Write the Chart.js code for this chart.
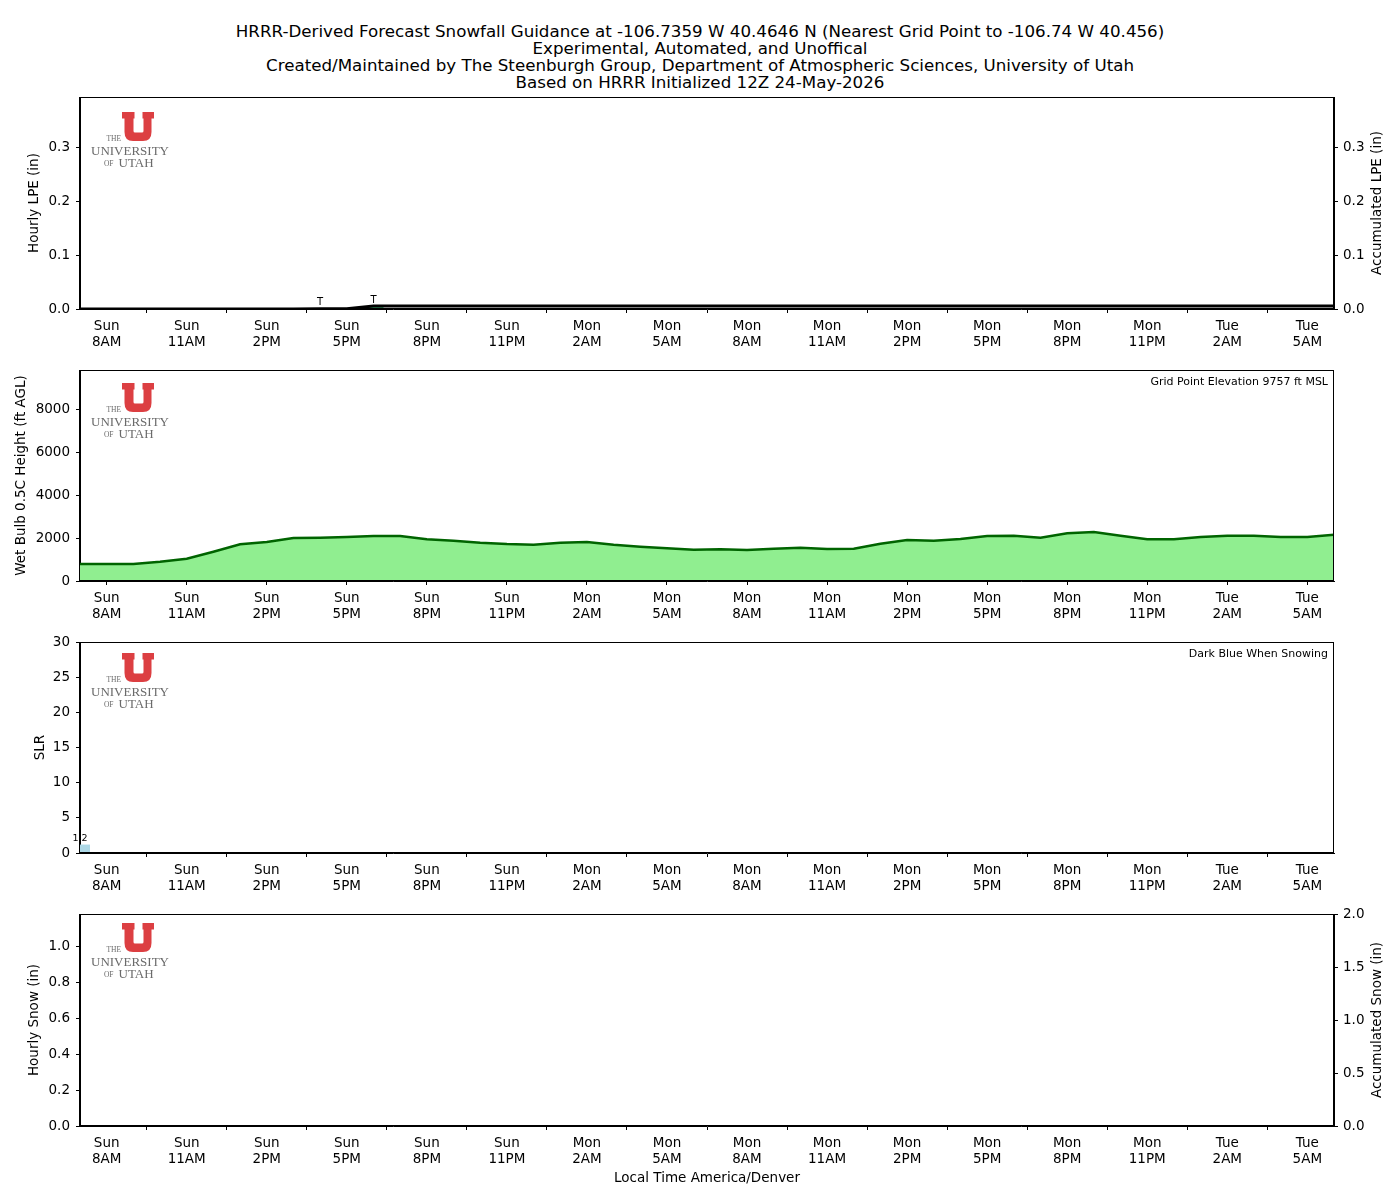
<!DOCTYPE html>
<html>
<head>
<meta charset="utf-8">
<script src="https://cdn.jsdelivr.net/npm/chart.js@4.4.0/dist/chart.umd.min.js"></script>
<style>
body { margin:0; background:#fff; width:1400px; height:1200px; position:relative; font-family:"DejaVu Sans"; }
#title { position:absolute; top:23px; left:0; width:1400px; text-align:center; font-size:16.7px; line-height:17px; color:#000; }
canvas { position:absolute; left:0; }
</style>
</head>
<body>
<div id="title">
HRRR-Derived Forecast Snowfall Guidance at -106.7359 W 40.4646 N (Nearest Grid Point to -106.74 W 40.456)<br>
Experimental, Automated, and Unoffical<br>
Created/Maintained by The Steenburgh Group, Department of Atmospheric Sciences, University of Utah<br>
Based on HRRR Initialized 12Z 24-May-2026
</div>
<canvas id="c1" width="1400" height="277" style="top:82px"></canvas>
<canvas id="c2" width="1400" height="276" style="top:355px"></canvas>
<canvas id="c3" width="1400" height="276" style="top:627px"></canvas>
<canvas id="c4" width="1400" height="299" style="top:899px"></canvas>
<script>
// hours since Sun 7AM local
var fcstHour = [0,1,2,3,4,5,6,7,8,9,10,11,12,13,14,15,16,17,18,19,20,21,22,23,
                24,25,26,27,28,29,30,31,32,33,34,35,36,37,38,39,40,41,42,43,44,45,46,47];

var tickHour = [1,4,7,10,13,16,19,22,25,28,31,34,37,40,43,46];
var tickDay  = ['Sun','Sun','Sun','Sun','Sun','Sun','Mon','Mon','Mon','Mon','Mon','Mon','Mon','Mon','Tue','Tue'];
var tickTime = ['8AM','11AM','2PM','5PM','8PM','11PM','2AM','5AM','8AM','11AM','2PM','5PM','8PM','11PM','2AM','5AM'];

var lpeHourly = [0,0,0,0,0,0,0,0,0,0.0005,0,0.005,0,0,0,0,0,0,0,0,0,0,0,0,
                 0,0,0,0,0,0,0,0,0,0,0,0,0,0,0,0,0,0,0,0,0,0,0,0];
var lpeAccum  = [0,0,0,0,0,0,0,0,0,0.0005,0.0005,0.0055,0.0055,0.0055,0.0055,0.0055,0.0055,0.0055,0.0055,0.0055,0.0055,0.0055,0.0055,0.0055,
                 0.0055,0.0055,0.0055,0.0055,0.0055,0.0055,0.0055,0.0055,0.0055,0.0055,0.0055,0.0055,0.0055,0.0055,0.0055,0.0055,0.0055,0.0055,0.0055,0.0055,0.0055,0.0055,0.0055,0.0055];

var wetBulbFt = [795,790,800,905,1045,1372,1715,1824,2011,2027,2058,2105,2105,1949,1886,1793,1730,1700,1793,1824,1700,1606,1528,1465,
                 1490,1450,1512,1559,1497,1512,1746,1918,1886,1964,2105,2120,2027,2229,2292,2120,1949,1949,2058,2120,2120,2058,2058,2167];

var slr = [1.2,null,null,null,null,null,null,null,null,null,null,null,null,null,null,null,null,null,null,null,null,null,null,null,
           null,null,null,null,null,null,null,null,null,null,null,null,null,null,null,null,null,null,null,null,null,null,null,null];

var snowHourly = [0,0,0,0,0,0,0,0,0,0,0,0,0,0,0,0,0,0,0,0,0,0,0,0,
                  0,0,0,0,0,0,0,0,0,0,0,0,0,0,0,0,0,0,0,0,0,0,0,0];
var snowAccum  = [0,0,0,0,0,0,0,0,0,0,0,0,0,0,0,0,0,0,0,0,0,0,0,0,
                  0,0,0,0,0,0,0,0,0,0,0,0,0,0,0,0,0,0,0,0,0,0,0,0];

var gridElevation = 9757;

Chart.defaults.font.family = 'DejaVu Sans';
Chart.defaults.font.size = 13.5;
Chart.defaults.color = '#000';
Chart.defaults.animation = false;

function pts(arr){
  return fcstHour.map(function(h, i){ return {x: h, y: arr[i]}; });
}

var axisGrid = {display:true, drawOnChartArea:false, drawTicks:true, tickLength:4, color:'#000', lineWidth:1};
var axisBorder = {display:true, color:'#000', width:1};

function xAxis(height, withTitle){
  return {
    type:'linear', min:0, max:47, offset:false,
    grid:axisGrid, border:axisBorder,
    afterBuildTicks:function(s){ s.ticks = tickHour.map(function(v){ return {value:v}; }); },
    afterFit:function(s){ s.height = height; },
    ticks:{autoSkip:false, maxRotation:0, padding:5,
      callback:function(v){ var k = tickHour.indexOf(v); return k < 0 ? '' : [tickDay[k], tickTime[k]]; }},
    title:{display:!!withTitle, text:'Local Time America/Denver', padding:{top:0,bottom:11}}
  };
}

function yAxis(pos, max, step, title, titlePad, fmt){
  return {
    position:pos, min:0, max:max,
    grid:axisGrid, border:axisBorder,
    afterFit:function(s){ s.width = pos === 'left' ? 80 : 66; },
    afterBuildTicks:function(s){
      var t = [];
      for (var v = 0; v <= max + 1e-9; v += step) t.push({value: Math.round(v / step) * step});
      s.ticks = t;
    },
    ticks:{padding:pos === 'left' ? 6 : 5,
      callback:function(v){ return fmt ? v.toFixed(fmt) : v; }},
    title:{display:pos === 'left', text:title, padding:{top:titlePad,bottom:0}}
  };
}

// full box around the axes, like matplotlib spines
var framePlugin = {
  id:'frame',
  afterDraw:function(chart){
    var a = chart.chartArea, c = chart.ctx;
    c.save();
    c.strokeStyle = '#000'; c.lineWidth = 1;
    c.strokeRect(Math.round(a.left) - 0.5, Math.round(a.top) + 0.5, Math.round(a.right - a.left), Math.round(a.bottom - a.top) - 1);
    c.restore();
  }
};

// University of Utah logo in the upper left of each panel
var logoPlugin = {
  id:'utahLogo',
  afterDraw:function(chart, args, opts){
    var c = chart.ctx, x = chart.chartArea.left + 42, y = chart.chartArea.top + opts.dy;
    c.save();
    c.fillStyle = '#dc3f42';
    c.beginPath();
    c.moveTo(x, y); c.lineTo(x+12.5, y); c.lineTo(x+12.5, y+6.5); c.lineTo(x+11.5, y+6.5);
    c.lineTo(x+11.5, y+19); c.quadraticCurveTo(x+11.5, y+20.5, x+13, y+20.5);
    c.lineTo(x+20, y+20.5); c.quadraticCurveTo(x+21.5, y+20.5, x+21.5, y+19);
    c.lineTo(x+21.5, y+6.5); c.lineTo(x+20.5, y+6.5); c.lineTo(x+20.5, y); c.lineTo(x+32, y);
    c.lineTo(x+32, y+6.5); c.lineTo(x+29.5, y+6.5); c.lineTo(x+29.5, y+20);
    c.quadraticCurveTo(x+29.5, y+29, x+21, y+29); c.lineTo(x+11, y+29);
    c.quadraticCurveTo(x+2.5, y+29, x+2.5, y+20); c.lineTo(x+2.5, y+6.5); c.lineTo(x, y+6.5);
    c.closePath(); c.fill();
    c.fillStyle = '#6a6a6a';
    c.textBaseline = 'alphabetic';
    c.font = '7.5px "Liberation Serif"'; c.textAlign = 'right';
    c.fillText('THE', x - 1, y + 29);
    c.font = '13px "Liberation Serif"'; c.textAlign = 'center';
    c.fillText('UNIVERSITY', x + 8, y + 42.5);
    c.font = '7.5px "Liberation Serif"'; c.textAlign = 'right';
    c.fillText('OF', x - 8.5, y + 54);
    c.font = '13px "Liberation Serif"'; c.textAlign = 'left';
    c.fillText('UTAH', x - 3.5, y + 54.5);
    c.restore();
  }
};

// right-hand axis label, reading bottom to top
var sideLabelPlugin = {
  id:'sideLabel',
  afterDraw:function(chart, args, opts){
    if (!opts.text) return;
    var c = chart.ctx, a = chart.chartArea;
    c.save();
    c.translate(1377, (a.top + a.bottom) / 2);
    c.rotate(-Math.PI / 2);
    c.font = '13.5px "DejaVu Sans"'; c.fillStyle = '#000';
    c.textAlign = 'center'; c.textBaseline = 'middle';
    c.fillText(opts.text, 0, 0);
    c.restore();
  }
};

// small note in the upper right of a panel
var cornerNotePlugin = {
  id:'cornerNote',
  afterDraw:function(chart, args, opts){
    if (!opts.text) return;
    var c = chart.ctx, a = chart.chartArea;
    c.save();
    c.font = '11px "DejaVu Sans"'; c.fillStyle = '#000';
    c.textAlign = 'right'; c.textBaseline = 'alphabetic';
    c.fillText(opts.text, a.right - 6, a.top + 14.5);
    c.restore();
  }
};

// text above bars: "T" for trace LPE, values for SLR
var barTextPlugin = {
  id:'barText',
  afterDatasetsDraw:function(chart, args, opts){
    if (!opts.mode) return;
    var c = chart.ctx, meta = chart.getDatasetMeta(0), data = chart.data.datasets[0].data;
    c.save();
    c.fillStyle = '#000'; c.textAlign = 'center'; c.textBaseline = 'bottom';
    meta.data.forEach(function(el, i){
      var v = data[i].y;
      if (v === null || v <= 0) return;
      if (opts.mode === 'trace' && v < 0.01) {
        c.font = '10px "DejaVu Sans"';
        c.fillText('T', el.x, el.y - 1);
      } else if (opts.mode === 'value') {
        c.font = '9.5px "DejaVu Sans"';
        c.fillText(v.toFixed(1), el.x, el.y - 1);
      }
    });
    c.restore();
  }
};

var plugs = [framePlugin, logoPlugin, sideLabelPlugin, cornerNotePlugin, barTextPlugin];

function baseOptions(extra){
  var o = {
    responsive:false, animation:false,
    layout:{padding:{top:15, left:0, right:0, bottom:0}},
    plugins:{legend:{display:false}, tooltip:{enabled:false}}
  };
  for (var k in extra.plugins) o.plugins[k] = extra.plugins[k];
  o.layout.padding.right = extra.padRight || 0;
  o.scales = extra.scales;
  return o;
}

// Panel 1: hourly and accumulated LPE
new Chart(document.getElementById('c1'), {
  type:'bar',
  data:{datasets:[
    {type:'bar', data:pts(lpeHourly), backgroundColor:'#3cb371', barPercentage:0.75, categoryPercentage:1, yAxisID:'y', order:2},
    {type:'line', data:pts(lpeAccum), borderColor:'#000', borderWidth:3, pointRadius:0, fill:false, yAxisID:'y1', order:1}
  ]},
  options:baseOptions({
    plugins:{utahLogo:{dy:15}, sideLabel:{text:'Accumulated LPE (in)'}, barText:{mode:'trace'}},
    scales:{
      x:xAxis(50),
      y:yAxis('left', 0.395, 0.1, 'Hourly LPE (in)', 26, 1),
      y1:yAxis('right', 0.395, 0.1, '', 0, 1)
    }
  }),
  plugins:plugs
});

// Panel 2: wet bulb 0.5C height
new Chart(document.getElementById('c2'), {
  type:'line',
  data:{datasets:[
    {data:pts(wetBulbFt), borderColor:'#006400', borderWidth:2.5, backgroundColor:'#90ee90', fill:'origin', pointRadius:0, tension:0}
  ]},
  options:baseOptions({
    padRight:66,
    plugins:{utahLogo:{dy:13}, cornerNote:{text:'Grid Point Elevation ' + gridElevation + ' ft MSL'}},
    scales:{
      x:xAxis(50),
      y:yAxis('left', 9870, 2000, 'Wet Bulb 0.5C Height (ft AGL)', 13.5, 0)
    }
  }),
  plugins:plugs
});

// Panel 3: snow-to-liquid ratio
new Chart(document.getElementById('c3'), {
  type:'bar',
  data:{datasets:[
    {data:pts(slr), backgroundColor:snowHourly.map(function(s){ return s > 0 ? '#00008b' : '#add8e6'; }),
     barPercentage:0.75, categoryPercentage:1}
  ]},
  options:baseOptions({
    padRight:66,
    plugins:{utahLogo:{dy:11}, cornerNote:{text:'Dark Blue When Snowing'}, barText:{mode:'value'}},
    scales:{
      x:xAxis(50),
      y:yAxis('left', 30, 5, 'SLR', 32, 0)
    }
  }),
  plugins:plugs
});

// Panel 4: hourly and accumulated snow
new Chart(document.getElementById('c4'), {
  type:'bar',
  data:{datasets:[
    {type:'bar', data:pts(snowHourly), backgroundColor:'#4169e1', barPercentage:0.75, categoryPercentage:1, yAxisID:'y', order:2},
    {type:'line', data:pts(snowAccum), borderColor:'#000', borderWidth:2, pointRadius:0, fill:false, yAxisID:'y1', order:1}
  ]},
  options:baseOptions({
    plugins:{utahLogo:{dy:9}, sideLabel:{text:'Accumulated Snow (in)'}},
    scales:{
      x:xAxis(72, true),
      y:yAxis('left', 1.18, 0.2, 'Hourly Snow (in)', 26, 1),
      y1:yAxis('right', 2.0, 0.5, '', 0, 1)
    }
  }),
  plugins:plugs
});
</script>
</body>
</html>
